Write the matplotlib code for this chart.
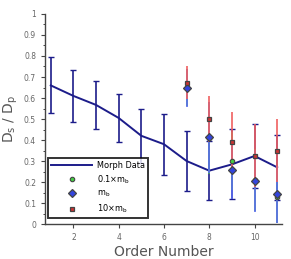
import matplotlib.pyplot as plt
from matplotlib.lines import Line2D

# Morph data
order = [1, 2, 3, 4, 5, 6, 7, 8, 9, 10, 11]
morph = [0.66, 0.61, 0.567, 0.505, 0.42, 0.38, 0.30, 0.254, 0.284, 0.324, 0.27]
morph_err = [0.133, 0.123, 0.113, 0.116, 0.13, 0.145, 0.145, 0.14, 0.167, 0.153, 0.155]

# model runs
order_m = [7, 8, 9, 10, 11]
small = [0.65, 0.41, 0.30, 0.21, 0.13]
small_err = [0.09, 0.17, 0.14, 0.147, 0.125]
mid = [0.648, 0.413, 0.257, 0.206, 0.141]
mid_err = [0.092, 0.17, 0.14, 0.147, 0.136]
big = [0.673, 0.50, 0.392, 0.324, 0.348]
big_err = [0.077, 0.11, 0.14, 0.15, 0.15]

navy = "#1c1c8a"
grey = "#444444"

fig = plt.figure(figsize=(2.91, 2.59), dpi=100)
ax = fig.add_axes([0.155, 0.135, 0.813, 0.811])

ax.errorbar(order, morph, yerr=morph_err, color=navy, lw=1.4, elinewidth=1.2,
            capsize=2.2, capthick=1.0, zorder=2)

ax.errorbar(order_m, small, yerr=small_err, fmt="none", ecolor="#4caf50",
            elinewidth=1.2, zorder=3)
ax.errorbar(order_m, mid, yerr=mid_err, fmt="none", ecolor="#5a6cf0",
            elinewidth=1.2, zorder=3)
ax.errorbar(order_m, big, yerr=big_err, fmt="none", ecolor="#f06060",
            elinewidth=1.2, zorder=4)

ax.plot(order_m, small, "o", ms=3.2, mfc="#44cc44", mec="#444444", mew=0.8, zorder=5)
ax.plot(order_m, mid, "D", ms=4.3, mfc="#3344dd", mec="#444444", mew=0.9, zorder=6)
ax.plot(order_m, big, "s", ms=3.2, mfc="#cc3333", mec="#444444", mew=0.9, zorder=7)

ax.set_xlim(0.75, 11.2)
ax.set_ylim(0, 1)
ax.set_xticks([2, 4, 6, 8, 10])
ax.set_yticks([0, 0.1, 0.2, 0.3, 0.4, 0.5, 0.6, 0.7, 0.8, 0.9, 1])
ax.set_yticklabels(["0", "0.1", "0.2", "0.3", "0.4", "0.5", "0.6", "0.7", "0.8", "0.9", "1"])
ax.set_yticks([i * 0.05 for i in range(21)], minor=True)
ax.tick_params(labelsize=5.5, labelcolor="#666666", color=grey, width=0.8, length=3)
ax.tick_params(which="minor", length=1.8, color=grey, width=0.7)
for s in ["top", "right"]:
    ax.spines[s].set_visible(False)
for s in ["left", "bottom"]:
    ax.spines[s].set_color(grey)
    ax.spines[s].set_linewidth(1.0)

ax.set_xlabel("Order Number", fontsize=10, color="#555555", labelpad=2)
ax.set_ylabel(r"D$_{\rm s}$ / D$_{\rm p}$", fontsize=10, color="#555555", labelpad=3)

handles = [
    Line2D([], [], color=navy, lw=1.4),
    Line2D([], [], ls="none", marker="o", ms=3.2, mfc="#44cc44", mec="#444444", mew=0.8),
    Line2D([], [], ls="none", marker="D", ms=4.3, mfc="#3344dd", mec="#444444", mew=0.9),
    Line2D([], [], ls="none", marker="s", ms=3.2, mfc="#cc3333", mec="#444444", mew=0.9),
]
labels = ["Morph Data", r"0.1$\times$m$_{\rm b}$", r"m$_{\rm b}$", r"10$\times$m$_{\rm b}$"]
leg = ax.legend(handles, labels, loc="lower left", bbox_to_anchor=(0.013, 0.029),
                fontsize=5.9, frameon=True, fancybox=False, borderaxespad=0,
                handlelength=5.0, labelspacing=0.4, borderpad=0.35, handletextpad=0.6)
leg.get_frame().set_edgecolor("black")
leg.get_frame().set_linewidth(1.4)

fig.savefig("out.png", dpi=100)
